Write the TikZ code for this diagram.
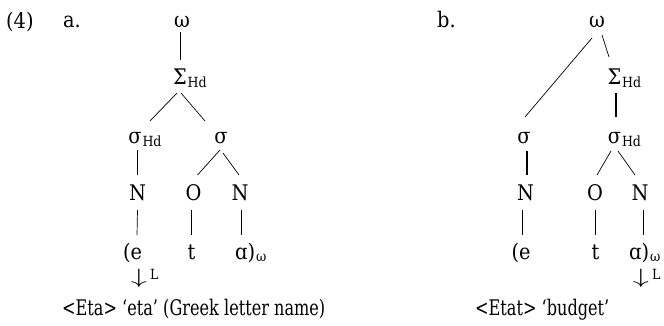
\documentclass[tikz,border=0pt]{standalone}
\usepackage{fontspec}
\setmainfont{DejaVu Serif}[FakeStretch=0.9]
\newfontfamily\capfont{DejaVu Serif}[FakeStretch=0.75]
\usetikzlibrary{calc}
\newcommand{\lowarrow}{\scalebox{1.55}[1.0]{$\downarrow$}}
\begin{document}
\begin{tikzpicture}[x=1pt,y=-1pt,
  lbl/.style={inner sep=0pt, anchor=base, font=\fontsize{21.5}{25}\selectfont},
  lblw/.style={lbl, anchor=base west},
  subs/.style={inner sep=0pt, anchor=base west, font=\fontsize{14}{17}\selectfont},
  captxt/.style={inner sep=0pt, anchor=base west, font=\capfont\fontsize{21.5}{25}\selectfont},
  arrowmark/.style={inner sep=0pt, anchor=center, font=\fontsize{20}{24}\selectfont},
  edge/.style={line width=0.7pt},
  edgeb/.style={line width=1.4pt}]
\useasboundingbox (0,0) rectangle (664,325);

% example number and sub-labels
\node[lblw] (num) at (6,28) {(4)};
\node[lblw] (la) at (63,27) {a.};
\node[lblw] (lb) at (437,27) {b.};

% ---- tree (a) ----
\node[lbl] (wa) at (182,27) {ω};
\node[lbl] (Sa) at (180,84) {Σ};
\node[subs] (Sa-hd) at ([xshift=0.5pt,yshift=-3.5pt]Sa.base east) {Hd};
\node[lbl] (sHa) at (135,143) {σ};
\node[subs] (sHa-hd) at ([xshift=0.5pt,yshift=-3pt]sHa.base east) {Hd};
\node[lbl] (sa) at (221,143) {σ};
\node[lbl] (Na1) at (137.5,200) {N};
\node[lbl] (Oa) at (193.5,200) {O};
\node[lbl] (Na2) at (240,200) {N};
\node[lbl] (ea) at (132.5,259) {(e};
\node[lbl] (ta) at (191.5,259) {t};
\node[lblw] (aa) at (235,259) {ɑ)};
\node[subs] (aa-w) at ([xshift=0.5pt,yshift=-2pt]aa.base east) {ω};
\node[arrowmark] (arra) at (139,278) {\lowarrow};
\node[subs] (arra-L) at (150,279) {L};
\node[captxt] (capa) at (62,315) {<Eta> ‘eta’ (Greek letter name)};

\draw[edge] ($(wa.base)+(-2,5)$) -- ($(Sa.base)+(0,-24)$);
\draw[edge] ($(Sa.base)+(-3,9)$) -- ($(sHa.base)+(15,-22)$);
\draw[edge] ($(Sa.base)+(1,9)$) -- ($(sa.base)+(-16,-22)$);
\draw[edgeb] ($(sHa.base)+(2.5,7)$) -- ($(Na1.base)+(0,-25)$);
\draw[edge] ($(sa.base)+(-1,7)$) -- ($(Oa.base)+(4,-25)$);
\draw[edge] ($(sa.base)+(2,10)$) -- ($(Na2.base)+(-1,-25)$);
\draw[edge] ($(Na1.base)+(0,10)$) -- ($(ea.base)+(4.5,-24)$);
\draw[edge] ($(Oa.base)+(-2.5,10)$) -- ($(ta.base)+(-0.5,-24)$);
\draw[edge] ($(Na2.base)+(1,10)$) -- ($(aa.base west)+(6,-24)$);

% ---- tree (b) ----
\node[lbl] (wb) at (597,27) {ω};
\node[lbl] (Sb) at (614.5,84) {Σ};
\node[subs] (Sb-hd) at ([xshift=0.5pt,yshift=-3.5pt]Sb.base east) {Hd};
\node[lbl] (sb) at (524,143) {σ};
\node[lbl] (sHb) at (614.5,143) {σ};
\node[subs] (sHb-hd) at ([xshift=0.5pt,yshift=-3pt]sHb.base east) {Hd};
\node[lbl] (Nb1) at (525.5,200) {N};
\node[lbl] (Ob) at (595,200) {O};
\node[lbl] (Nb2) at (640,200) {N};
\node[lbl] (eb) at (521,259) {(e};
\node[lbl] (tb) at (595.5,259) {t};
\node[lblw] (ab) at (629,259) {ɑ)};
\node[subs] (ab-w) at ([xshift=0.5pt,yshift=-2pt]ab.base east) {ω};
\node[arrowmark] (arrb) at (641,278) {\lowarrow};
\node[subs] (arrb-L) at (652,279) {L};
\node[captxt] (capb) at (475,315) {<Etat> ‘budget’};

\draw[edge] ($(wb.base)+(-5,11)$) -- ($(sb.base)+(1,-26)$);
\draw[edge] ($(wb.base)+(5,8)$) -- ($(Sb.base)+(-5.5,-27)$);
\draw[edgeb] ($(Sb.base)+(1.5,9)$) -- ($(sHb.base)+(1.5,-26)$);
\draw[edgeb] ($(sb.base)+(3,8)$) -- ($(Nb1.base)+(1.5,-25)$);
\draw[edge] ($(sHb.base)+(-3.5,8)$) -- ($(Ob.base)+(2,-25)$);
\draw[edge] ($(sHb.base)+(3.5,8)$) -- ($(Nb2.base)+(-5,-25)$);
\draw[edge] ($(Nb1.base)+(-3.5,10)$) -- ($(eb.base)+(1,-24)$);
\draw[edge] ($(Ob.base)+(0,10)$) -- ($(tb.base)+(-0.5,-24)$);
\draw[edge] ($(Nb2.base)+(3,10)$) -- ($(ab.base west)+(14,-24)$);
\end{tikzpicture}
\end{document}
